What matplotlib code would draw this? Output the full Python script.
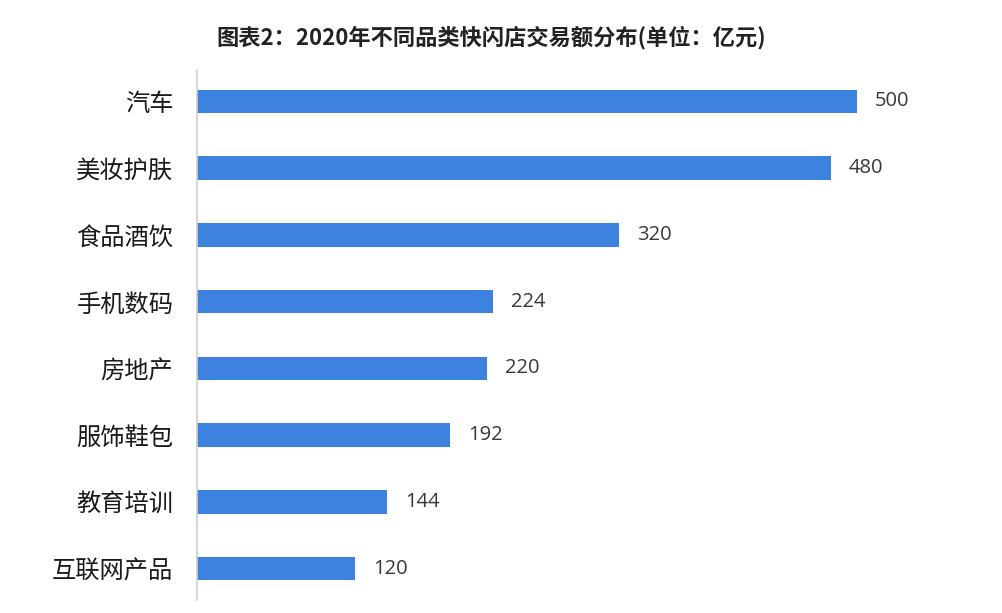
import matplotlib
matplotlib.use("Agg")
import matplotlib.pyplot as plt

categories = ["汽车", "美妆护肤", "食品酒饮", "手机数码", "房地产", "服饰鞋包", "教育培训", "互联网产品"]
values = [500, 480, 320, 224, 220, 192, 144, 120]
title = "图表2：2020年不同品类快闪店交易额分布(单位：亿元)"

plt.rcParams['font.family'] = ['Noto Sans CJK SC', 'DejaVu Sans']

W, H = 1003, 613
fig = plt.figure(figsize=(W / 100, H / 100), dpi=100)
ax = fig.add_axes([197 / W, 1 - 600 / H, (857 - 197) / W, (600 - 70) / H])

ypos = list(range(len(categories)))
ax.barh(ypos, values, height=0.35, color="#3E82E0", zorder=2)
ax.set_xlim(0, 500)
ax.set_ylim(7.47, -0.47)

ax.set_yticks(ypos)
ax.set_yticklabels(categories, fontsize=17.5, color="#1a1a1a")
ax.tick_params(axis='y', length=0, pad=17)
ax.set_xticks([])

for s in ["top", "right", "bottom"]:
    ax.spines[s].set_visible(False)
ax.spines["left"].set_color("#d0d0d0")
ax.spines["left"].set_linewidth(1.2)

for y, v in zip(ypos, values):
    ax.annotate(str(v), xy=(v, y), xytext=(13, 0), textcoords="offset points",
                va="center", ha="left", fontsize=14.5, color="#383838",
                family=["Open Sans", "DejaVu Sans"], annotation_clip=False)

fig.text(491 / W, 1 - 38 / H, title, ha="center", va="center",
         fontsize=16, fontweight="bold", color="#222222")

fig.savefig("out.png", dpi=100, facecolor="white")
